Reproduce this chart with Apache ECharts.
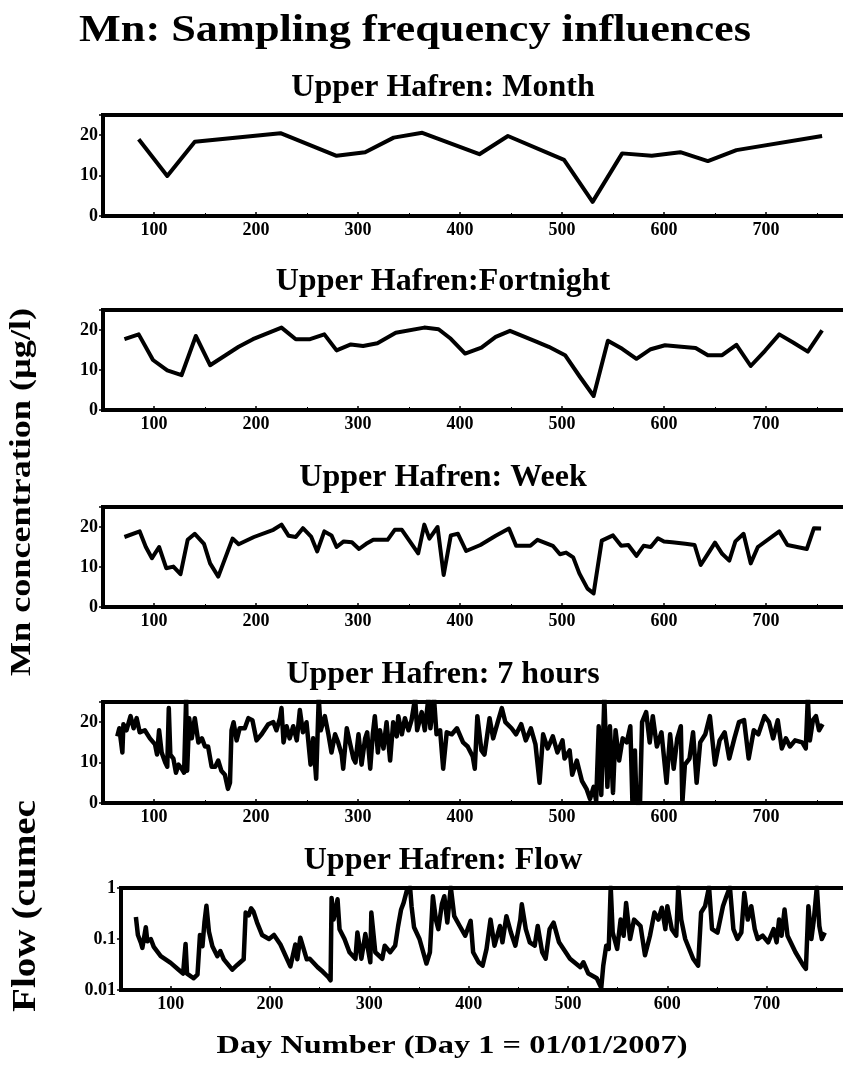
<!DOCTYPE html>
<html><head><meta charset="utf-8">
<script src="https://cdn.jsdelivr.net/npm/echarts@6/dist/echarts.min.js"></script>
<style>html,body{margin:0;padding:0;background:#fff}#c{width:843px;height:1075px}</style>
</head><body><div id="c"></div>
<script>
// ---------- data ----------
const xTickLabels = [100, 200, 300, 400, 500, 600, 700];
const concTickLabels = [0, 10, 20];
const flowTickLabels = [0.01, 0.1, 1];

const monthDays = [85,113,140,224,279,307,335,363,419,447,502,530,559,588,616,643,671,755];
const monthMn   = [19.0,9.9,18.4,20.5,14.9,15.8,19.4,20.6,15.3,19.8,13.9,3.5,15.5,14.9,15.8,13.6,16.3,19.8];

const fortDays = [71,85,99,113,127,141,155,169,183,197,225,239,253,267,279,293,305,319,337,365,379,391,405,421,435,449,473,487,503,517,531,545,559,573,587,601,617,631,643,657,671,685,699,713,727,741,755];
const fortMn   = [17.7,18.9,12.5,9.9,8.7,18.5,11.2,13.5,15.8,17.7,20.6,17.7,17.7,18.9,14.9,16.4,16.0,16.7,19.3,20.6,20.2,17.8,14.1,15.6,18.3,19.8,17.3,15.8,13.7,8.5,3.5,17.3,15.3,12.8,15.2,16.2,15.8,15.5,13.7,13.7,16.3,11.0,14.8,18.9,16.8,14.6,19.9];

const weekDays = [71,86,92,98,105,112,119,126,133,140,149,155,163,177,183,198,217,225,232,239,246,254,260,267,274,279,286,294,301,308,315,329,336,343,359,365,370,378,384,391,398,406,420,435,448,455,469,476,491,498,504,511,517,525,531,539,550,558,565,573,580,587,594,600,608,621,630,636,643,650,657,664,670,678,685,692,713,721,740,747,754];
const weekMn   = [17.5,18.9,15.0,12.2,15.0,9.7,10.1,8.2,16.8,18.3,15.8,10.9,7.6,17.1,15.7,17.5,19.3,20.6,17.8,17.5,19.7,17.6,13.9,18.9,17.9,15.0,16.4,16.2,14.5,15.8,16.8,16.8,19.3,19.3,13.4,20.6,17.1,20.0,8.0,17.9,18.3,14.0,15.5,17.8,19.6,15.3,15.3,16.8,15.3,13.2,13.6,12.4,8.4,4.6,3.4,16.6,17.9,15.3,15.5,12.8,15.3,15.0,17.2,16.4,16.2,15.8,15.5,10.5,13.3,16.1,13.3,11.6,16.4,18.3,10.9,15.0,18.9,15.5,14.5,19.7,19.6];

const hourDays = [64,66,69,70,73,77,80,83,86,91,96,101,103,105,107.5,111,113,114.5,116,119,121.5,124,127,129.5,131.5,132.5,134.5,137,140,143.5,147,150,153,156.5,160,163,166,169.5,172.5,174.5,176,178,181,184,189,192.5,196.5,200.5,205.5,212,217,220,223.5,225,227,230,233,236.5,240,243,246,249.5,253.5,256,259,261.5,263.5,267.5,271,274,277.5,280.5,284,285.5,289,292,295.5,297.5,300.5,303.5,307,309,312,314.5,316.5,319.5,321.5,325,328,331.5,334.5,338,339.5,343,346,349.5,352.5,356,358,362.5,365.5,369,371,374.5,377,380.5,383.5,387,392,397,403,407.5,412.5,414.5,417,421,424,429,432.5,437,441,444.5,450.5,455,460,464.5,469.5,474,478,481.5,486,491,495.5,500.5,502.5,507.5,510,514.5,519.5,524,527.5,531,533.5,536,538.5,541.5,544.5,547,550,552.5,556,559.5,563.5,567,569,571.5,573,576.5,578.5,582.5,586,589,593,597.5,602.5,606,609.5,613,616.5,618,620.5,625,628.5,632,635.5,640.5,645,650,654.5,659.5,664,669,673.5,678.5,683,688,692.5,698.5,703,707,711.5,715.5,719.5,723.5,728.5,735.5,739,741,743,746,749,752,755.5];
const hourMn   = [16.5,18.5,12.5,19.5,18,21.5,18.5,21,17.5,18,16,14.5,12,18,12.5,10,9,23.5,12,11,7.5,9.5,8.5,7.5,26,8,21,16,21,15,16,14,14,9,9,10.5,8,7,3.5,5,18,20,15.5,18.5,18.5,21,20.5,15.5,17,19.5,20,18,21,23.5,15,19,16,19,15.5,23,17.5,20,9.5,16,6,26,18,21.5,17,12.5,17,15,12,8.5,18.5,15,11,10,17,9.5,16,17.5,8.5,17,21.5,12.5,18,13.5,20,10.5,20,16.5,21.5,17,21,18,20.5,26,18,22.5,18,26,18.5,26,17,18,8.5,17.5,17,18.5,15,14,11.5,8.5,21.5,13,12,21,16,20,23.5,20,18.5,17,19.5,15.5,18.5,14.5,5,17,13.5,16.5,12.5,15.5,11,13,7,10.5,5.5,3.5,1,4,0.5,19,2,26,4,19,2.5,18,10.5,16,15,19,0.5,13,0,0,20,22.5,15,21.5,14,17.5,5,17,8.5,16,19,0,9.5,11,17.5,5,15,17,21.5,9.5,15.5,17.5,11,16,20,20.5,11,18,17,21.5,20,16,20.5,13.5,16,14,15.5,15,13.5,26,15.5,20.5,21.5,18,19.5];

const flowDays = [65,66,67,70,71.5,75,76.5,80,83,90,100,108,112.5,115,116.5,123,127,129.5,132,134,136,138.5,142,147,150,153.5,162,167,173.5,175.5,178.5,181,183.5,187,192,199,204,210.5,220.5,225.5,227.5,230.5,237,240,248,253,258.5,261,262,264,268,270,275,280,286,288,292,296,301,302,306,313,315.5,321,326,329,332,334.5,338,341,342.5,345,350.5,357.5,361,364,367,369.5,373,375.5,378.5,382,385.5,391,396.5,402,404.5,410,414,418,422,426,431.5,434,438,442.5,447,452,453.5,457.5,461.5,466.5,469.5,474,477.5,481.5,485.5,491,502,512.5,515.5,520.5,529,533.5,535.5,538.5,541,543,545,549.5,553,556,558.5,562.5,566.5,573,577.5,582.5,587,591,594.5,598,600,604.5,609,611,614,618,626,631,634,638,642,645,650.5,656,659.5,663,666.5,670.5,674.5,677.5,681,684.5,688,691,696,701.5,707,710,712.5,715,718,721,729,737,739.5,742,745,747.5,750.5,753,755.5,758.5];
const flowQ    = [0.27,0.18,0.12,0.085,0.067,0.17,0.09,0.1,0.07,0.046,0.034,0.025,0.021,0.08,0.021,0.017,0.02,0.12,0.072,0.21,0.45,0.14,0.072,0.046,0.058,0.04,0.025,0.031,0.04,0.33,0.29,0.4,0.34,0.21,0.12,0.1,0.12,0.078,0.029,0.078,0.04,0.106,0.04,0.041,0.028,0.023,0.018,0.0155,0.64,0.24,0.6,0.156,0.1,0.055,0.041,0.134,0.041,0.125,0.035,0.33,0.055,0.041,0.074,0.055,0.074,0.18,0.38,0.51,0.93,1.05,0.44,0.17,0.1,0.033,0.055,0.69,0.24,0.156,0.48,0.69,0.21,1.05,0.28,0.18,0.116,0.227,0.055,0.035,0.03,0.064,0.24,0.074,0.18,0.086,0.28,0.134,0.074,0.24,0.48,0.156,0.086,0.074,0.18,0.055,0.041,0.156,0.21,0.086,0.041,0.028,0.035,0.021,0.017,0.011,0.03,0.074,0.064,1.05,0.134,0.064,0.24,0.116,0.51,0.1,0.24,0.18,0.048,0.116,0.33,0.24,0.41,0.156,0.44,0.156,0.116,1.05,0.24,0.1,0.041,0.03,0.33,0.44,1.05,0.156,0.134,0.44,0.69,1.05,0.156,0.1,0.134,0.8,0.24,0.44,0.156,0.1,0.116,0.086,0.156,0.086,0.24,0.116,0.38,0.116,0.055,0.03,0.026,0.44,0.1,0.24,1.05,0.18,0.1,0.134];

// ---------- helpers ----------
const FONT = '"Liberation Serif", "Times New Roman", serif';
const zip = (a, b) => a.map((v, i) => [v, b[i]]);
const mctx = document.createElement('canvas').getContext('2d');
function fit(text, px, target) { mctx.font = 'bold ' + px + 'px ' + FONT; return target / mctx.measureText(text).width; }

const grids = [
  {top: 115, height: 101, left: 103, right: -25},
  {top: 310, height: 100, left: 103, right: -25},
  {top: 507, height: 100, left: 103, right: -25},
  {top: 702, height: 101, left: 103, right: -25},
  {top: 888, height: 102, left: 121, right: -23}
].map(g => Object.assign(g, {show: true, borderColor: '#000', borderWidth: 4, backgroundColor: 'transparent', containLabel: false, outerBoundsMode: 'none'}));

const labelStyle = {color: '#000', fontFamily: FONT, fontWeight: 'bold', fontSize: 18};

const xAxes = grids.map((g, i) => ({
  type: 'value', gridIndex: i, min: 50, max: 800, splitNumber: 8, minInterval: 100, maxInterval: 100,
  axisLine: {show: true, onZero: false, lineStyle: {color: '#000', width: 4}},
  axisTick: {show: true, inside: true, length: 4, lineStyle: {color: '#000', width: 1.5}},
  minorTick: {show: true, splitNumber: 2, length: 3, lineStyle: {color: '#000', width: 1}},
  splitLine: {show: false},
  axisLabel: Object.assign({margin: 5, showMinLabel: false, showMaxLabel: false,
    formatter: v => xTickLabels.includes(v) ? String(v) : ''}, labelStyle)
}));

const yAxes = grids.map((g, i) => i < 4 ? ({
  type: 'value', gridIndex: i, min: 0, max: 25, interval: 10,
  axisLine: {show: true, lineStyle: {color: '#000', width: 4}},
  axisTick: {show: true, length: 4, lineStyle: {color: '#000', width: 1.5}},
  minorTick: {show: true, splitNumber: 5, length: 2, lineStyle: {color: '#000', width: 1}},
  splitLine: {show: false},
  axisLabel: Object.assign({margin: 5, showMaxLabel: false,
    formatter: v => concTickLabels.includes(v) ? String(v) : ''}, labelStyle)
}) : ({
  type: 'log', logBase: 10, gridIndex: i, min: 0.01, max: 1,
  axisLine: {show: true, lineStyle: {color: '#000', width: 4}},
  axisTick: {show: true, length: 4, lineStyle: {color: '#000', width: 1.5}},
  minorTick: {show: true, splitNumber: 5, length: 2, lineStyle: {color: '#000', width: 1}},
  splitLine: {show: false},
  axisLabel: Object.assign({margin: 5,
    formatter: v => { const t = flowTickLabels.find(f => Math.abs(f - v) / f < 1e-6); return t !== undefined ? String(t) : ''; }}, labelStyle)
}));

const lineSeries = (i, data, w) => ({
  type: 'line', xAxisIndex: i, yAxisIndex: i, data: data, symbol: 'none', clip: true,
  lineStyle: {color: '#000', width: w, join: 'round'}, animation: false, silent: true
});

const series = [
  lineSeries(0, zip(monthDays, monthMn), 4),
  lineSeries(1, zip(fortDays, fortMn), 4),
  lineSeries(2, zip(weekDays, weekMn), 4),
  lineSeries(3, zip(hourDays, hourMn), 4.5),
  lineSeries(4, zip(flowDays, flowQ), 4.5)
];

function txt(text, x, y, px, opts) {
  opts = opts || {};
  return {
    type: 'text', x: x, y: y, rotation: opts.rot || 0,
    scaleX: opts.width ? fit(text, px, opts.width) : 1, scaleY: opts.sy || 1,
    style: {text: text, font: 'bold ' + px + 'px ' + FONT, fill: '#000',
      textAlign: 'center', textVerticalAlign: 'middle', align: 'center', verticalAlign: 'middle'}
  };
}

const panelTitles = ['Upper Hafren: Month', 'Upper Hafren:Fortnight', 'Upper Hafren: Week', 'Upper Hafren: 7 hours', 'Upper Hafren: Flow'];
const titleY = [88, 282, 478, 675, 861];

const graphic = [
  txt('Mn: Sampling frequency influences', 415, 31, 34, {width: 672, sy: 1.1}),
  txt('Day Number (Day 1 = 01/01/2007)', 452, 1046, 26, {width: 471}),
  txt('Mn concentration (µg/l)', 23, 492, 29, {rot: Math.PI / 2, width: 368}),
  txt('Flow (cumec', 26, 906, 34, {rot: Math.PI / 2, width: 212})
].concat(panelTitles.map((t, i) => txt(t, 443, titleY[i], 32)));

const chart = echarts.init(document.getElementById('c'), null, {renderer: 'canvas'});
chart.setOption({
  backgroundColor: '#fff', animation: false,
  grid: grids, xAxis: xAxes, yAxis: yAxes, series: series, graphic: graphic
});
</script></body></html>
